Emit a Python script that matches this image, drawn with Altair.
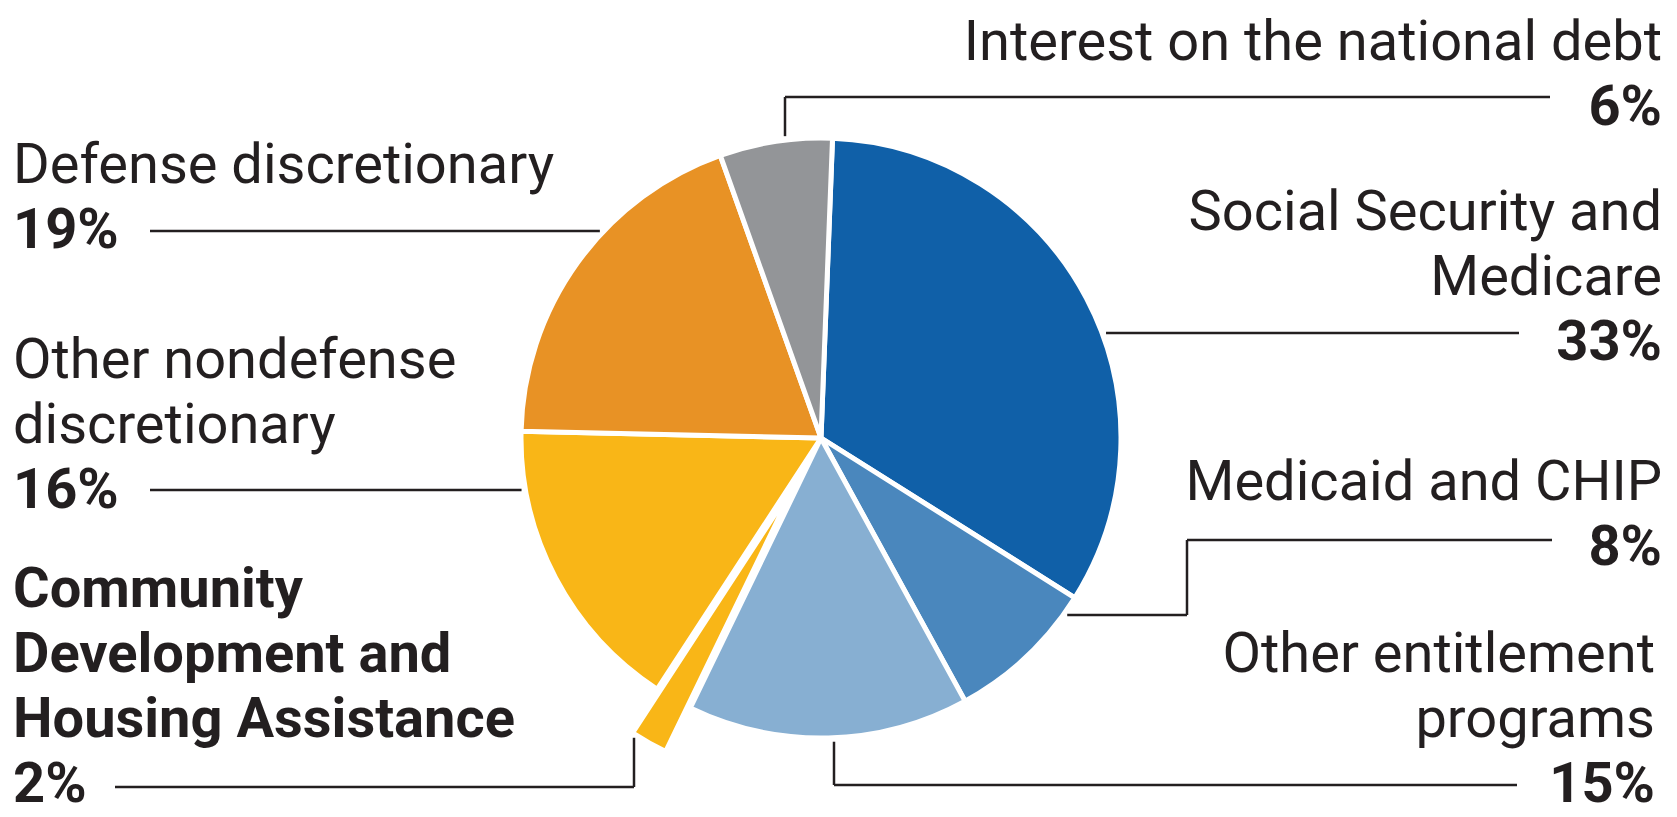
import math
import altair as alt
import pandas as pd

# ---------------- data ----------------
categories = [
    "Social Security and\nMedicare",
    "Medicaid and CHIP",
    "Other entitlement\nprograms",
    "Community\nDevelopment and\nHousing Assistance",
    "Other nondefense\ndiscretionary",
    "Defense discretionary",
    "Interest on the national debt",
]
shares = [33, 8, 15, 2, 16, 19, 6]
pct_labels = ["33%", "8%", "15%", "2%", "16%", "19%", "6%"]
highlight = "Community\nDevelopment and\nHousing Assistance"

# ---------------- style / layout ----------------
colors = ["#1060A8", "#4A87BD", "#87AFD2", "#F9B617", "#F9B617", "#E89225", "#939598"]
INK = "#231F20"
FONT = "Roboto"
FS = 56
LH = 65
W, H, M = 1677, 817, 8
CX, CY, R = 821, 438, 300
START = math.radians(2.2)
EXPLODE = 50
GAP = 4

# label anchor: side, x, first baseline (reference pixel coords)
anchors = {
    0: ("right", 1662, 230),
    1: ("right", 1662, 500),
    2: ("right", 1655, 672),
    3: ("left", 13, 607),
    4: ("left", 13, 378),
    5: ("left", 13, 183),
    6: ("right", 1662, 60),
}

total = sum(shares)
ends = []
acc = 0
for v in shares:
    acc += v
    ends.append(acc)
starts = [e - v for e, v in zip(ends, shares)]

pie = pd.DataFrame({"cat": categories, "v": shares, "t0": starts, "t1": ends})


def ang(val):
    return START + 2 * math.pi * val / total


hi = categories.index(highlight)
mid = ang((starts[hi] + ends[hi]) / 2)
EX = CX + EXPLODE * math.sin(mid)
EY = CY - EXPLODE * math.cos(mid)


def edge_y_bottom(x, cx=CX, cy=CY):
    return cy + math.sqrt(R * R - (x - cx) ** 2)


def edge_y_top(x, cx=CX, cy=CY):
    return cy - math.sqrt(R * R - (x - cx) ** 2)


def edge_x_right(y):
    return CX + math.sqrt(R * R - (y - CY) ** 2)


def edge_x_left(y):
    return CX - math.sqrt(R * R - (y - CY) ** 2)


# leader-line layout (reference pixel coords)
segs = []
# Interest
ix, iy = 785, 97
segs += [(ix, edge_y_top(ix) - GAP, ix, iy), (ix, iy, 1550, iy)]
# Social Security
sy = 333
segs += [(edge_x_right(sy) + GAP, sy, 1519, sy)]
# Medicaid
my, mx, my2 = 615, 1187, 540
segs += [(edge_x_right(my) + GAP, my, mx, my), (mx, my, mx, my2), (mx, my2, 1552, my2)]
# Other entitlement
ox, oy = 834, 785
segs += [(ox, edge_y_bottom(ox) + GAP, ox, oy), (ox, oy, 1517, oy)]
# Community development (exploded)
cx2, cy2 = 634, 787
segs += [(cx2, edge_y_bottom(cx2, EX, EY) + GAP, cx2, cy2), (115, cy2, cx2, cy2)]
# Other nondefense
segs += [(150, 490, edge_x_left(490) - GAP, 490)]
# Defense
segs += [(150, 231, edge_x_left(231) - GAP, 231)]
rules = pd.DataFrame(segs, columns=["x", "y", "x2", "y2"])

rows = []
for i, c in enumerate(categories):
    side, x0, y0 = anchors[i]
    lines = c.split("\n")
    w = "bold" if c == highlight else "normal"
    for k, ln in enumerate(lines):
        rows.append({"text": ln, "x": x0, "y": y0 + k * LH, "side": side, "w": w})
    rows.append({"text": pct_labels[i], "x": x0, "y": y0 + len(lines) * LH, "side": side, "w": "bold"})
texts = pd.DataFrame(rows)

# ---------------- chart ----------------
xs = alt.Scale(domain=[M, W - M], nice=False, zero=False)
ys = alt.Scale(domain=[M, H - M], nice=False, zero=False, reverse=True)
ts = alt.Scale(domain=[0, total], range=[START, START + 2 * math.pi])
cs = alt.Scale(domain=categories, range=colors)

arc_base = alt.Chart(pie).mark_arc(outerRadius=R, stroke="white", strokeWidth=5, strokeJoin="bevel")

arcs = arc_base.encode(
    x=alt.XDatum(CX, type="quantitative", scale=xs, axis=None),
    y=alt.YDatum(CY, type="quantitative", scale=ys, axis=None),
    theta=alt.Theta("t0:Q", scale=ts),
    theta2="t1:Q",
    color=alt.Color("cat:N", scale=cs, legend=None),
).transform_filter(alt.datum.cat != highlight)

exploded = arc_base.encode(
    x=alt.XDatum(EX, type="quantitative", scale=xs, axis=None),
    y=alt.YDatum(EY, type="quantitative", scale=ys, axis=None),
    theta=alt.Theta("t0:Q", scale=ts),
    theta2="t1:Q",
    color=alt.Color("cat:N", scale=cs, legend=None),
).transform_filter(alt.datum.cat == highlight)

leaders = alt.Chart(rules).mark_rule(color=INK, strokeWidth=2.5).encode(
    x=alt.X("x:Q", scale=xs, axis=None),
    y=alt.Y("y:Q", scale=ys, axis=None),
    x2="x2:Q",
    y2="y2:Q",
)

text_layers = []
for side in ["left", "right"]:
    for w in ["normal", "bold"]:
        text_layers.append(
            alt.Chart(texts)
            .transform_filter((alt.datum.side == side) & (alt.datum.w == w))
            .mark_text(align=side, baseline="alphabetic", font=FONT, fontSize=FS,
                       fontWeight=w, color=INK)
            .encode(
                x=alt.X("x:Q", scale=xs, axis=None),
                y=alt.Y("y:Q", scale=ys, axis=None),
                text="text:N",
            )
        )

chart = alt.layer(arcs, exploded, leaders, *text_layers).properties(
    width=W - 2 * M,
    height=H - 2 * M,
    padding=0,
    autosize=alt.AutoSizeParams(type="none"),
    background="white",
).configure_view(stroke=None)

chart.save("out.html", embed_options={"renderer": "svg", "actions": False})
